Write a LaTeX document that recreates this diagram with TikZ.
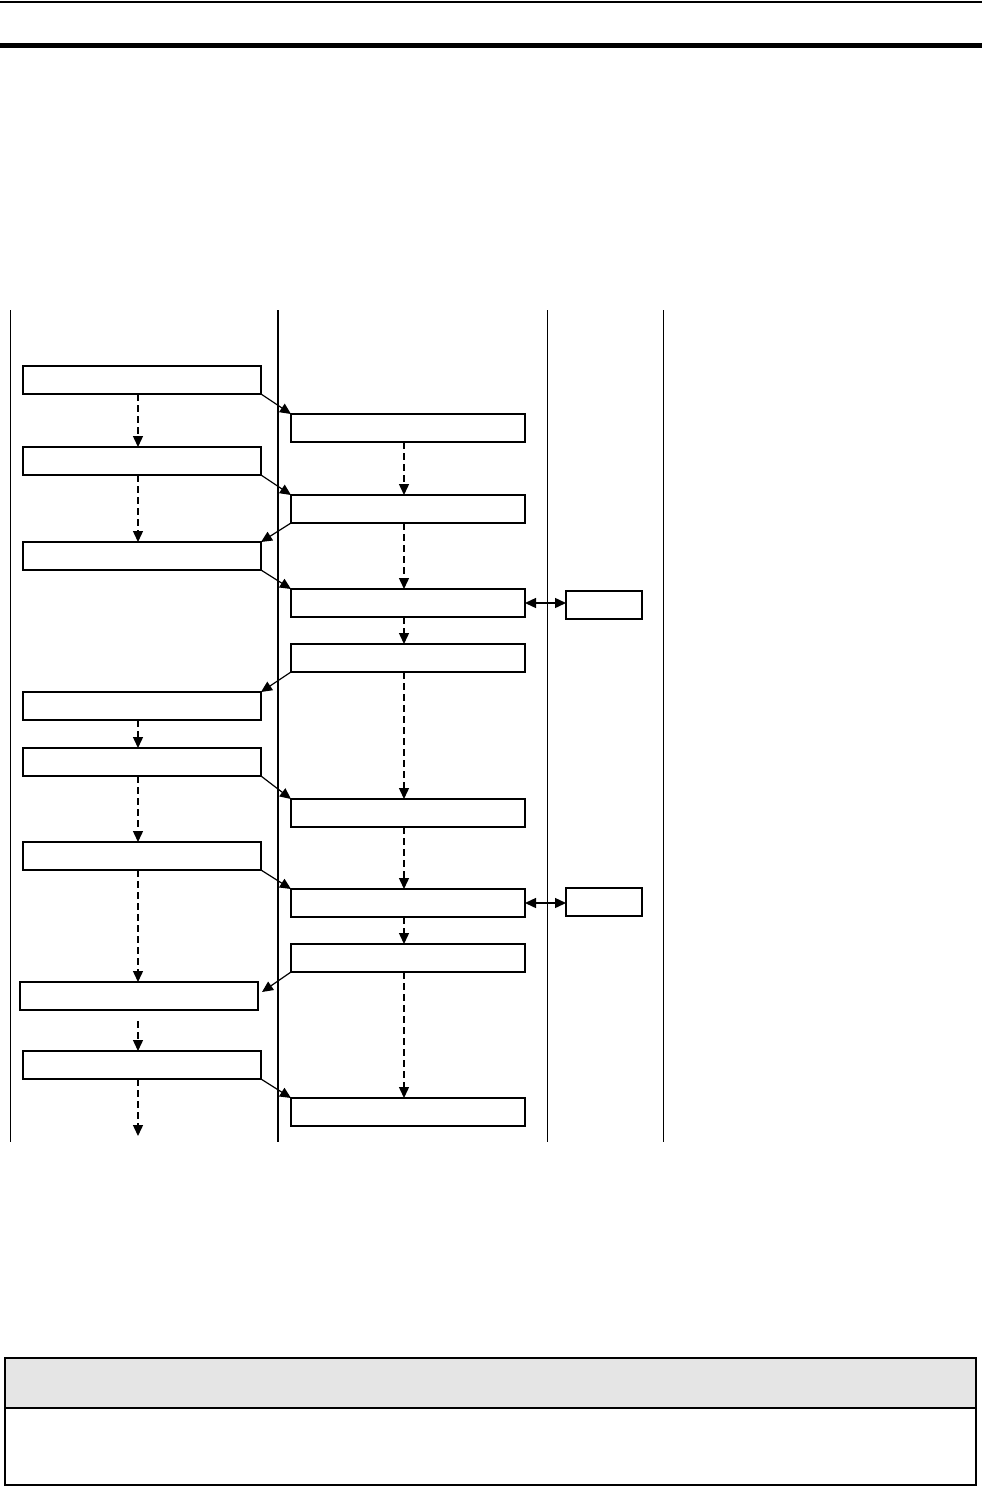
\documentclass[tikz,border=0pt]{standalone}
\usetikzlibrary{arrows.meta}
\begin{document}
\begin{tikzpicture}[x=1pt,y=-1pt,
  box/.style={draw,line width=1.4pt,inner sep=0pt,outer sep=0pt,minimum height=28pt},
  lbox/.style={box,minimum width=238pt},
  mbox/.style={box,minimum width=234pt},
  rbox/.style={box,minimum width=76pt},
  tip/.style={Triangle[length=11pt,width=10pt]},
  arr/.style={line width=1.2pt,-{Triangle[length=11pt,width=10pt]}},
  darr/.style={line width=1.4pt,dash pattern=on 7pt off 4pt,-{Triangle[length=11pt,width=10pt]}},
  barr/.style={line width=1.4pt,{Triangle[length=11pt,width=10pt]}-{Triangle[length=11pt,width=10pt]}},
  lane/.style={line width=1pt},
  thicklane/.style={line width=2.5pt}]
\useasboundingbox (0,0) rectangle (996,1488);
% header rules
\draw[line width=2pt] (0,2) -- (982,2);
\draw[line width=5pt] (0,46) -- (982,46);
% lanes
\coordinate (la1) at (10,310); \coordinate (lb1) at (10,1142);
\coordinate (la2) at (278,310); \coordinate (lb2) at (278,1142);
\coordinate (la3) at (547,310); \coordinate (lb3) at (547,1142);
\coordinate (la4) at (663,310); \coordinate (lb4) at (663,1142);
\draw[lane] (la1) -- (lb1);
\draw[thicklane] (la2) -- (lb2);
\draw[lane] (la3) -- (lb3);
\draw[lane] (la4) -- (lb4);
% left boxes
\node[lbox] (L1) at (142,380) {};
\node[lbox] (L2) at (142,461) {};
\node[lbox] (L3) at (142,556) {};
\node[lbox] (L4) at (142,706) {};
\node[lbox] (L5) at (142,762) {};
\node[lbox] (L6) at (142,856) {};
\node[lbox] (L7) at (139,996) {};
\node[lbox] (L8) at (142,1065) {};
% middle boxes
\node[mbox] (M1) at (408,428) {};
\node[mbox] (M2) at (408,509) {};
\node[mbox] (M3) at (408,603) {};
\node[mbox] (M4) at (408,658) {};
\node[mbox] (M5) at (408,813) {};
\node[mbox] (M6) at (408,903) {};
\node[mbox] (M7) at (408,958) {};
\node[mbox] (M8) at (408,1112) {};
% right boxes
\node[rbox] (R1) at (604,605) {};
\node[rbox] (R2) at (604,902) {};
\coordinate (Lend) at (138,1136);
% left dashed
\draw[darr] ([xshift=-4pt]L1.south) -- ([xshift=-4pt]L2.north);
\draw[darr] ([xshift=-4pt]L2.south) -- ([xshift=-4pt]L3.north);
\draw[darr] ([xshift=-4pt]L4.south) -- ([xshift=-4pt]L5.north);
\draw[darr] ([xshift=-4pt]L5.south) -- ([xshift=-4pt]L6.north);
\draw[darr] ([xshift=-4pt]L6.south) -- ([xshift=-1pt]L7.north);
\draw[darr,shorten <=11pt] ([xshift=-1pt]L7.south) -- ([xshift=-4pt]L8.north);
\draw[darr] ([xshift=-4pt]L8.south) -- (Lend);
% middle dashed
\draw[darr] ([xshift=-4pt]M1.south) -- ([xshift=-4pt]M2.north);
\draw[darr] ([xshift=-4pt]M2.south) -- ([xshift=-4pt]M3.north);
\draw[darr] ([xshift=-4pt]M3.south) -- ([xshift=-4pt]M4.north);
\draw[darr] ([xshift=-4pt]M4.south) -- ([xshift=-4pt]M5.north);
\draw[darr] ([xshift=-4pt]M5.south) -- ([xshift=-4pt]M6.north);
\draw[darr] ([xshift=-4pt]M6.south) -- ([xshift=-4pt]M7.north);
\draw[darr] ([xshift=-4pt]M7.south) -- ([xshift=-4pt]M8.north);
% cross arrows
\draw[arr] (L1.south east) -- (M1.north west);
\draw[arr] (L2.south east) -- (M2.north west);
\draw[arr] (M2.south west) -- (L3.north east);
\draw[arr] (L3.south east) -- (M3.north west);
\draw[arr] (M4.south west) -- (L4.north east);
\draw[arr] (L5.south east) -- (M5.north west);
\draw[arr] (L6.south east) -- (M6.north west);
\draw[arr] (M7.south west) -- ([xshift=4pt,yshift=-10pt]L7.north east);
\draw[arr] (L8.south east) -- (M8.north west);
% double arrows
\draw[barr] (M3.east) -- (R1.west |- M3.east);
\draw[barr] (M6.east) -- (R2.west |- M6.east);
% bottom table
\node[draw,line width=1.2pt,fill=black!10,inner sep=0pt,outer sep=0pt,minimum width=971pt,minimum height=50pt] (T1) at (490.5,1383) {};
\node[draw,line width=1.2pt,inner sep=0pt,outer sep=0pt,minimum width=971pt,minimum height=77pt] (T2) at (490.5,1446.5) {};
\draw[line width=2.5pt] (T1.south west) -- (T1.south east);
\end{tikzpicture}
\end{document}
